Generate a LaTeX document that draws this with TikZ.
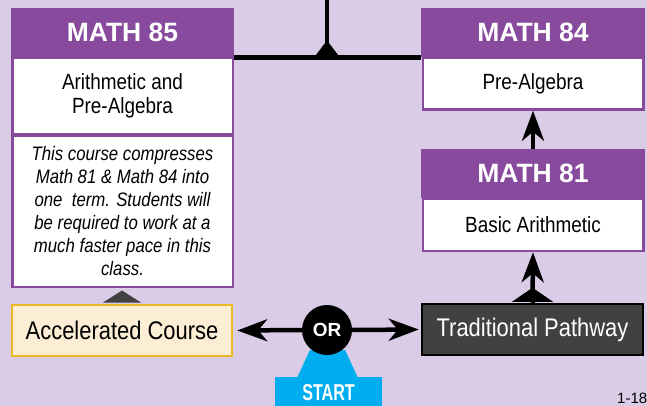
\documentclass[tikz,border=0pt]{standalone}
\usepackage{fontspec}
\setmainfont{Liberation Sans}
\newfontfamily\narrowfont[FakeStretch=0.86]{Liberation Sans}
\newfontfamily\startfont[FakeStretch=0.7]{Liberation Sans}
\usetikzlibrary{arrows.meta}

\definecolor{lavender}{RGB}{218,204,230}
\definecolor{mathpurple}{RGB}{136,74,157}
\definecolor{cream}{RGB}{251,238,213}
\definecolor{gold}{RGB}{235,185,34}
\definecolor{pathgray}{RGB}{65,64,66}
\definecolor{startblue}{RGB}{0,173,239}

\tikzset{
  head/.style={fill=mathpurple, text=white, inner sep=0pt, minimum width=223pt, minimum height=49.5pt,
    font=\fontsize{26.5}{26.5}\selectfont\bfseries},
  body/.style={draw=mathpurple, fill=white, line width=2.5pt, inner sep=0pt, minimum width=220.5pt,
    align=center, font=\narrowfont\fontsize{22}{24}\selectfont},
  note/.style={body, font=\narrowfont\itshape\fontsize{19.5}{23}\selectfont},
  choice/.style={line width=2.5pt, inner sep=0pt, minimum width=220pt, minimum height=51pt,
    font=\narrowfont\fontsize{25.5}{25.5}\selectfont},
  link/.style={line width=4.5pt},
  arrow/.style={line width=4.5pt, -{Stealth[length=30pt,width=22pt,inset=9pt]}}
}

\begin{document}
\begin{tikzpicture}[x=1pt,y=-1pt]
\useasboundingbox (0,0) rectangle (647,406);
\fill [lavender] (0,0) rectangle (647,406);

% left column
\node [body, minimum height=77pt] (m85b) at (122.5,96.25) {Arithmetic and\\Pre-Algebra};
\node [note, minimum height=151pt] (m85n) at (122.5,211.5) {This course compresses\\Math 81 \& Math 84 into\\one\ \ term. Students will\\be required to work at a\\much faster pace in this\\class.};
\node [head] (m85) at (122.5,32.75) {MATH 85};

% right column
\node [body, minimum height=52pt] (m84b) at (533,83.5) {Pre-Algebra};
\node [head, minimum width=224pt] (m84) at (533,32.75) {MATH 84};
\node [body, minimum height=52pt] (m81b) at (533,225) {Basic Arithmetic};
\node [head, minimum width=224pt, minimum height=49pt] (m81) at (533,173.5) {MATH 81};

% pathways
\node [choice, draw=gold, fill=cream] (accel) at (122,330.5) {Accelerated Course};
\node [choice, draw=black, fill=pathgray, text=white, minimum width=221pt] (trad) at (532.5,329.5) {Traditional Pathway};

% start
\fill [startblue] (310,350) -- (345,350) -- (358,378) -- (297,378) -- cycle;
\node [fill=startblue, text=white, inner sep=0pt, minimum width=107pt, minimum height=32pt,
  font=\startfont\bfseries\fontsize{23}{23}\selectfont] (start) at (328.5,393) {START};
\node [circle, fill=black, text=white, inner sep=0pt, minimum size=50pt,
  font=\bfseries\fontsize{19}{19}\selectfont] (orc) at (327,330) {OR};

% connectors
\coordinate (jn) at (327,57.5);
\coordinate (up) at (327,-3);
\draw [link] (m85.south east) -- (m84.south west);
\draw [link] (jn) -- (up);
\fill (jn) ++(-13,0) -- ++(26,0) -- ++(-13,-17) -- cycle;

\draw [arrow] (m81.north) -- (m84b.south);
\draw [arrow] (trad.north) -- (m81b.south);
\fill (trad.north) ++(-20.5,-1) -- ++(41,0) -- ++(-20.5,-14) -- cycle;
\fill [pathgray] (accel.north) ++(-19,-1.25) -- ++(38,0) -- ++(-19,-12) -- cycle;

\draw [arrow] (orc.west) -- ([xshift=4pt]accel.east);
\draw [arrow] (orc.east) -- ([xshift=-2pt]trad.west);

\node [anchor=base west, inner sep=0pt, font=\fontsize{15}{15}\selectfont] (pg) at (617,403) {1-18};
\end{tikzpicture}
\end{document}
